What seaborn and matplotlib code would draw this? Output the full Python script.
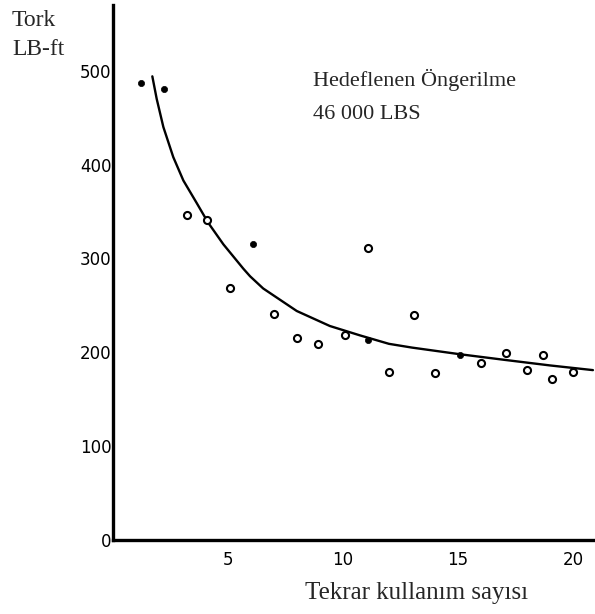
import matplotlib
matplotlib.use("Agg")
import matplotlib.pyplot as plt
import seaborn as sns

# Filled (solid) data points
filled_x = [1.2, 2.2, 6.1, 11.1, 15.1]
filled_y = [487, 480, 315, 213, 197]

# Open data points
open_x = [3.2, 4.1, 5.1, 7.0, 8.0, 8.9, 10.1, 11.1, 12.0, 13.1, 14.0, 16.0, 17.1, 18.0, 18.7, 19.1, 20.0]
open_y = [346, 341, 269, 241, 215, 209, 218, 311, 179, 240, 178, 189, 199, 181, 197, 171, 179]

# Fitted curve
curve_x = [1.71, 1.90, 2.19, 2.62, 3.06, 3.64, 4.14, 4.80, 5.67, 5.96, 6.53, 7.99, 9.43, 10.74, 12.0, 13.0, 15.06, 17.0, 19.0, 20.87]
curve_y = [494, 470, 440, 408, 383, 359, 338, 315, 289, 281, 268, 244, 228, 218, 209, 205, 198, 192, 186, 181]

x_ticks = [5, 10, 15, 20]
y_ticks = [0, 100, 200, 300, 400, 500]

sns.set_style("white")
plt.rcParams['font.family'] = ['DejaVu Sans']

W, H = 595, 614
fig = plt.figure(figsize=(W / 100, H / 100), dpi=100)
ax = fig.add_axes([113 / W, 1 - 540 / H, 1 - 113 / W, 535 / H])

sns.lineplot(x=curve_x, y=curve_y, ax=ax, color="black", linewidth=1.7, sort=False)
sns.scatterplot(x=open_x, y=open_y, ax=ax, marker="o", s=26, facecolor="white",
                edgecolor="black", linewidth=1.5, zorder=3)
sns.scatterplot(x=filled_x, y=filled_y, ax=ax, marker="o", s=20, color="black",
                edgecolor="black", linewidth=0.5, zorder=4)

ax.set_xlim(0, 20.96)
ax.set_ylim(0, 570)
for s in ["top", "right"]:
    ax.spines[s].set_visible(False)
for s in ["left", "bottom"]:
    ax.spines[s].set_linewidth(2.4)
    ax.spines[s].set_color("black")

ax.set_xticks(x_ticks)
ax.set_xticklabels([str(v) for v in x_ticks], fontsize=12)
ax.set_xticks(list(range(1, 21)), minor=True)
ax.tick_params(axis="x", which="major", direction="in", length=6, width=2, pad=8, colors="black")
ax.tick_params(axis="x", which="minor", direction="in", length=4, width=1.5)
ax.set_yticks(y_ticks)
ax.set_yticklabels([str(v) for v in y_ticks], fontsize=12)
ax.tick_params(axis="y", which="major", direction="in", length=4, width=1.5, pad=1, colors="black")

serif = "Liberation Serif"
fig.text(12 / W, 1 - 26 / H, "Tork", family=serif, fontsize=17, ha="left", va="baseline")
fig.text(12 / W, 1 - 55 / H, "LB-ft", family=serif, fontsize=17, ha="left", va="baseline")
fig.text(313 / W, 1 - 86 / H, "Hedeflenen Öngerilme", family=serif, fontsize=16,
         ha="left", va="baseline")
fig.text(313 / W, 1 - 119 / H, "46 000 LBS", family=serif, fontsize=16,
         ha="left", va="baseline")
fig.text(305 / W, 1 - 599 / H, "Tekrar kullanım sayısı", family=serif,
         fontsize=18, ha="left", va="baseline")

fig.savefig("out.png", dpi=100)
